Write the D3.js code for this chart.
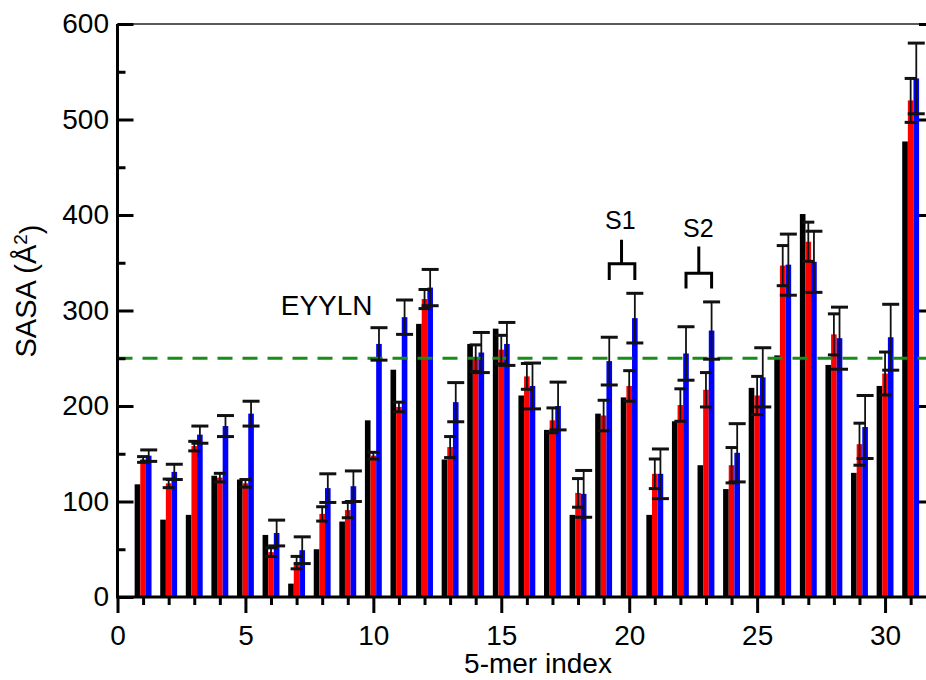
<!DOCTYPE html>
<html>
<head>
<meta charset="utf-8">
<script src="https://cdn.jsdelivr.net/npm/d3@7"></script>
<style>
  html, body { margin: 0; padding: 0; background: #fff; }
  svg { display: block; }
  text { font-family: "Liberation Sans", Arial, sans-serif; fill: #000; }
</style>
</head>
<body>
<svg id="chart" width="926" height="680"></svg>
<script>
// ---- data ----
const indices = d3.range(1, 32);
const blackVals = [118, 81, 86, 127, 123, 65, 14, 50, 79, 185, 238, 286, 144, 265, 281, 211, 175, 86, 192, 209, 86, 184, 138, 113, 219, 253, 401, 243, 130, 221, 477];
const redVals   = [144, 119, 158, 125, 119, 47, 36, 87, 91, 148, 199, 312, 157, 250, 259, 231, 185, 109, 190, 221, 129, 201, 217, 138, 211, 347, 372, 275, 160, 234, 520];
const redErr    = [3, 4.5, 5, 4.5, 4, 4.5, 6.5, 7.5, 8, 3.5, 5, 10, 11, 14, 15, 13.5, 13, 15, 16, 16, 15.5, 17, 18, 18.5, 20, 21, 20.5, 21.5, 22, 22.5, 23];
const blueVals  = [148, 131, 170, 179, 192, 67, 49, 114, 116, 265, 293, 324, 204, 256, 265, 221, 200, 108, 247, 292, 129, 255, 279, 151, 230, 348, 351, 271, 178, 272, 543];
const blueErr   = [6, 8, 9, 11, 13, 13.5, 14, 15, 16, 17, 18, 19, 20.5, 21, 22.5, 24, 25, 24.5, 25, 26, 26, 28, 30, 30.5, 31, 32, 32, 32.5, 33, 34.5, 37];
const xMajorTicks = [0, 5, 10, 15, 20, 25, 30];
const yMajorTicks = [0, 100, 200, 300, 400, 500, 600];
const yMinorTicks = [50, 150, 250, 350, 450, 550];
const thresholdValue = 250;
const xLabel = "5-mer index";
const yLabelMain = "SASA (Å";
const yLabelSup = "2";
const yLabelEnd = ")";
// annotations in data units
const textNotes = [
  {text: "EYYLN", x: 6.38, y: 295, anchor: "start", size: 28},
  {text: "S1", x: 19.65, y: 385, anchor: "middle", size: 25},
  {text: "S2", x: 22.7, y: 377, anchor: "middle", size: 25}
];
const brackets = [
  {x0: 19.22, x1: 20.22, xs: 19.70, top: 374, bar: 349, leg: 332},
  {x0: 22.22, x1: 23.22, xs: 22.72, top: 367, bar: 339, leg: 323}
];

// ---- scales ----
const svg = d3.select("#chart");
const x = d3.scaleLinear().domain([0, 31.6]).range([117.5, 926]);
const y = d3.scaleLinear().domain([0, 600]).range([597, 24]);
const barW = 0.22;
const series = [
  {vals: blackVals, err: null, off: -0.22, color: "#000000", cap: 0},
  {vals: redVals, err: redErr, off: 0, color: "#ff0000", cap: 12},
  {vals: blueVals, err: blueErr, off: 0.22, color: "#0000ff", cap: 17}
];

// ---- bars ----
const gBars = svg.append("g");
series.forEach(s => {
  gBars.selectAll(null).data(indices).enter().append("rect")
    .attr("x", (d, i) => x(d + s.off - barW / 2))
    .attr("width", x(barW) - x(0))
    .attr("y", (d, i) => y(s.vals[i]))
    .attr("height", (d, i) => y(0) - y(s.vals[i]))
    .attr("fill", s.color);
});

// ---- threshold line ----
svg.append("line")
  .attr("x1", x(0)).attr("x2", x(31.6))
  .attr("y1", y(thresholdValue)).attr("y2", y(thresholdValue))
  .attr("stroke", "#1a8c1a").attr("stroke-width", 3.2)
  .attr("stroke-dasharray", "15,10");

// ---- error bars ----
const gErr = svg.append("g").attr("stroke", "#111");
series.filter(s => s.err).forEach(s => {
  indices.forEach((d, i) => {
    const cx = x(d + s.off);
    const hi = y(s.vals[i] + s.err[i]);
    const lo = y(s.vals[i] - s.err[i]);
    gErr.append("line").attr("x1", cx).attr("x2", cx).attr("y1", hi).attr("y2", lo).attr("stroke-width", 1.8);
    [hi, lo].forEach(yy => {
      gErr.append("line").attr("x1", cx - s.cap / 2).attr("x2", cx + s.cap / 2)
        .attr("y1", yy).attr("y2", yy).attr("stroke-width", 3);
    });
  });
});

// ---- frame & axes ----
svg.append("line").attr("x1", x(0)).attr("x2", x(31.6)).attr("y1", y(600)).attr("y2", y(600))
  .attr("stroke", "#222").attr("stroke-width", 1.6);

function styleAxis(g, w) {
  g.select(".domain").remove();
  g.selectAll(".tick line").attr("stroke", "#000").attr("stroke-width", w);
  g.selectAll(".tick text").style("font-size", "28px").attr("fill", "#000");
}

const gxMaj = svg.append("g").attr("transform", `translate(0,${y(0)})`)
  .call(d3.axisBottom(x).tickValues(xMajorTicks).tickSize(16).tickPadding(12).tickFormat(d3.format("d")));
styleAxis(gxMaj, 3);
const gxMin = svg.append("g").attr("transform", `translate(0,${y(0)})`)
  .call(d3.axisBottom(x).tickValues(indices.filter(d => d % 5 !== 0)).tickSize(8).tickFormat(""));
styleAxis(gxMin, 3);
const gyMaj = svg.append("g").attr("transform", `translate(${x(0)},0)`)
  .call(d3.axisLeft(y).tickValues(yMajorTicks).tickSizeInner(-16).tickSizeOuter(0).tickPadding(8.5).tickFormat(d3.format("d")));
styleAxis(gyMaj, 3);
const gyMin = svg.append("g").attr("transform", `translate(${x(0)},0)`)
  .call(d3.axisLeft(y).tickValues(yMinorTicks).tickSizeInner(-8).tickSizeOuter(0).tickFormat(""));
styleAxis(gyMin, 3);
const gyR = svg.append("g").attr("transform", `translate(${x(31.6)},0)`)
  .call(d3.axisLeft(y).tickValues(yMajorTicks.filter(d => d > 0)).tickSize(7).tickFormat(""));
styleAxis(gyR, 3);

svg.append("line").attr("x1", x(0)).attr("x2", x(0)).attr("y1", y(600)).attr("y2", y(0))
  .attr("stroke", "#000").attr("stroke-width", 3);
svg.append("line").attr("x1", x(0) - 1.5).attr("x2", x(31.6)).attr("y1", y(0)).attr("y2", y(0))
  .attr("stroke", "#000").attr("stroke-width", 3);

// axis labels
svg.append("text").attr("x", 538).attr("y", 673)
  .attr("text-anchor", "middle").style("font-size", "28px").text(xLabel);
const yl = svg.append("text")
  .attr("transform", "translate(36,291) rotate(-90)")
  .attr("text-anchor", "middle").style("font-size", "29px");
yl.append("tspan").text(yLabelMain);
yl.append("tspan").attr("dy", "-0.45em").style("font-size", "19px").text(yLabelSup);
yl.append("tspan").attr("dy", "0.45em").text(yLabelEnd);

// annotations
textNotes.forEach(n => {
  svg.append("text").attr("x", x(n.x)).attr("y", y(n.y))
    .attr("text-anchor", n.anchor).style("font-size", n.size + "px").text(n.text);
});
brackets.forEach(b => {
  const p = d3.path();
  p.moveTo(x(b.xs), y(b.top)); p.lineTo(x(b.xs), y(b.bar));
  p.moveTo(x(b.x0), y(b.leg)); p.lineTo(x(b.x0), y(b.bar)); p.lineTo(x(b.x1), y(b.bar)); p.lineTo(x(b.x1), y(b.leg));
  svg.append("path").attr("d", p.toString()).attr("fill", "none")
    .attr("stroke", "#000").attr("stroke-width", 3);
});
</script>
</body>
</html>
